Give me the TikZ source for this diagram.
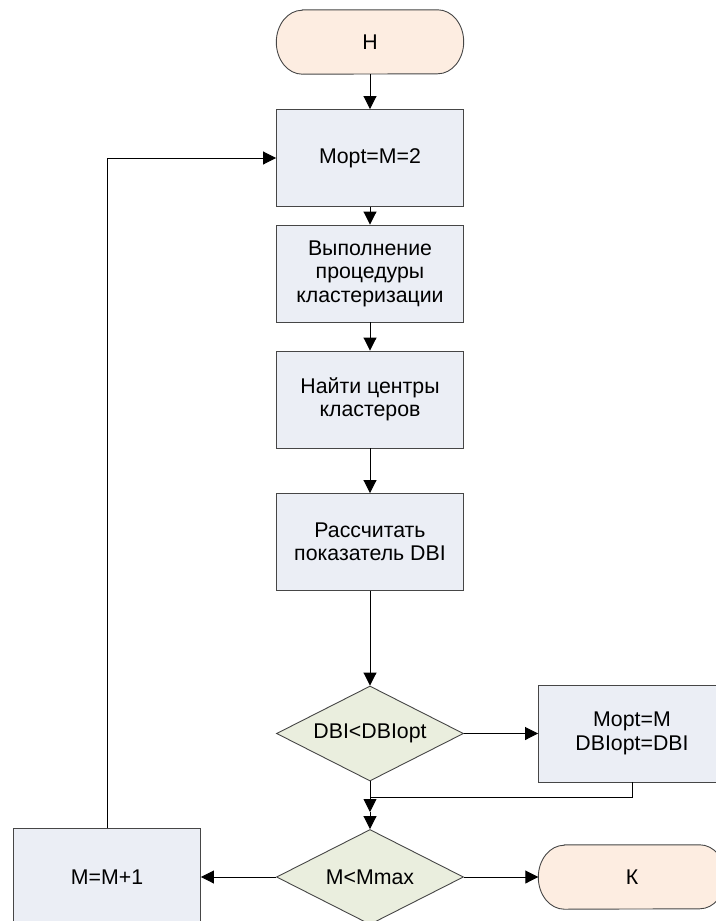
\documentclass[tikz,border=0pt]{standalone}
\usepackage{fontspec}
\setmainfont{Liberation Sans}
\usetikzlibrary{arrows.meta,shapes.geometric,backgrounds}

\definecolor{termfill}{RGB}{253,237,225}
\definecolor{procfill}{RGB}{235,238,245}
\definecolor{decfill}{RGB}{234,238,222}
\definecolor{edgegray}{RGB}{70,70,70}

\tikzset{
  base/.style={font=\fontsize{21.3}{23.5}\selectfont, align=center, inner sep=0pt},
  term/.style={base, minimum width=187pt, minimum height=64pt},
  termline/.style={draw=edgegray, line width=0.9pt, fill=termfill},
  proc/.style={base, rectangle, draw=edgegray, line width=0.9pt, fill=procfill,
               minimum width=187pt, minimum height=97pt},
  dec/.style={base, diamond, aspect=1.97, draw=edgegray, line width=0.9pt, fill=decfill,
              minimum width=187pt, minimum height=95pt},
  arr/.style={line width=0.9pt, -{Triangle[length=13pt,width=13pt]}},
  link/.style={line width=0.9pt}
}

\begin{document}
\begin{tikzpicture}[x=1pt,y=-1pt]
\useasboundingbox (0,0) rectangle (715,921);

% main column
\node[term] (H)   at (370,42)    {Н};
\node[proc] (b1)  at (370,158)   {Mopt=M=2};
\node[proc] (b2)  at (370,273.5) {Выполнение\\процедуры\\кластеризации};
\node[proc] (b3)  at (370,399.5) {Найти центры\\кластеров};
\node[proc] (b4)  at (370,542)   {Рассчитать\\показатель DBI};
\node[dec]  (d1)  at (370,733.5) {DBI<DBIopt};
\node[proc] (opt) at (632,733.5) {Mopt=M\\DBIopt=DBI};
\node[dec]  (d2)  at (370,877)   {M<Mmax};
\node[proc] (inc) at (107,877)   {M=M+1};
\node[term] (K)   at (632,877)   {К};

\coordinate (jn) at (370,797);
\coordinate (j1) at (370,812);

% terminator outlines with elliptic ends
\begin{scope}[on background layer]
  \foreach \n in {H,K}
    \draw[termline] ([xshift=26pt]\n.north west) -- ([xshift=-26pt]\n.north east)
      arc[start angle=90, end angle=-90, x radius=26pt, y radius=32pt]
      -- ([xshift=26pt]\n.south west)
      arc[start angle=270, end angle=90, x radius=26pt, y radius=32pt] -- cycle;
\end{scope}

% connectors
\draw[arr] (H.south) -- (b1.north);
\draw[arr] (b1.south) -- (b2.north);
\draw[arr] (b2.south) -- (b3.north);
\draw[arr] (b3.south) -- (b4.north);
\draw[arr] (b4.south) -- (d1.north);
\draw[arr] (d1.east) -- (opt.west);
\draw[link] (opt.south) |- (jn);
\draw[arr] (d1.south) -- (j1);
\draw[arr] (j1) -- (d2.north);
\draw[arr] (d2.east) -- (K.west);
\draw[arr] (d2.west) -- (inc.east);
\draw[arr] (inc.north) |- (b1.west);
\end{tikzpicture}
\end{document}
